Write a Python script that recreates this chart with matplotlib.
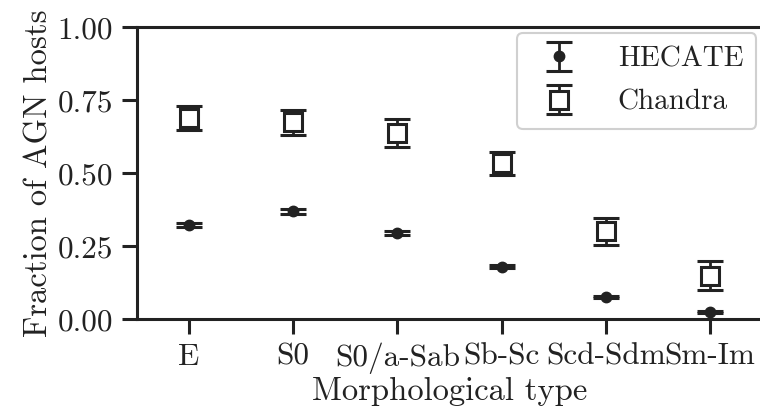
import numpy as np
import seaborn as sns
from matplotlib import pyplot as plt

types = ['E', 'S0', 'S0/a-Sab', 'Sb-Sc', 'Scd-Sdm', 'Sm-Im']
hecate = [0.322, 0.369, 0.296, 0.179, 0.075, 0.024]
hecate_err = [0.008, 0.008, 0.007, 0.005, 0.004, 0.004]
chandra = [0.689, 0.674, 0.637, 0.533, 0.300, 0.149]
chandra_err = [0.040, 0.042, 0.049, 0.040, 0.047, 0.050]

sns.set_style('ticks')
plt.rcParams['font.family'] = ['serif']
plt.rcParams['font.serif'] = ['cmr10', 'DejaVu Serif']
plt.rcParams['mathtext.fontset'] = 'cm'
plt.rcParams['axes.formatter.use_mathtext'] = True
plt.rcParams['axes.unicode_minus'] = False

dark = '#222222'
fig = plt.figure(figsize=(7.6, 4.16), dpi=100)
ax = fig.add_axes([0.180, 0.233, 0.823, 0.702])

x = np.arange(len(types))
ax.errorbar(x, hecate, yerr=hecate_err, fmt='o', color=dark, ms=7.5,
            elinewidth=2, capsize=9.6, capthick=2.2, label='HECATE')
ax.errorbar(x, chandra, yerr=chandra_err, fmt='s', color=dark, ms=12.5,
            mfc='white', mew=2.2, elinewidth=2, capsize=9.6, capthick=2.2,
            label='Chandra')

ax.set_xlim(-0.5, 5.5)
ax.set_ylim(0, 1)
ax.set_yticks([0, 0.25, 0.5, 0.75, 1.0])
ax.set_yticklabels(['0.00', '0.25', '0.50', '0.75', '1.00'])
ax.set_xticks(x)
ax.set_xticklabels(types)
ax.tick_params(labelsize=22.5, width=2.2, length=11, pad=6,
               color=dark, labelcolor=dark)
for s in ax.spines.values():
    s.set_linewidth(2.2)
    s.set_color(dark)

ax.set_xlabel('Morphological type', fontsize=23.5, color=dark, labelpad=2)
ax.set_ylabel('Fraction of AGN hosts', fontsize=23.5, color=dark, labelpad=3)
leg = ax.legend(loc='upper right', fontsize=21, fancybox=True, framealpha=1,
                borderaxespad=0.2, handlelength=2.0, handletextpad=1.0,
                labelcolor=dark, borderpad=0.45, labelspacing=0.58)
leg.get_frame().set_edgecolor('#d0d0d0')
leg.get_frame().set_linewidth(1.5)

fig.savefig('out.png', dpi=100)
